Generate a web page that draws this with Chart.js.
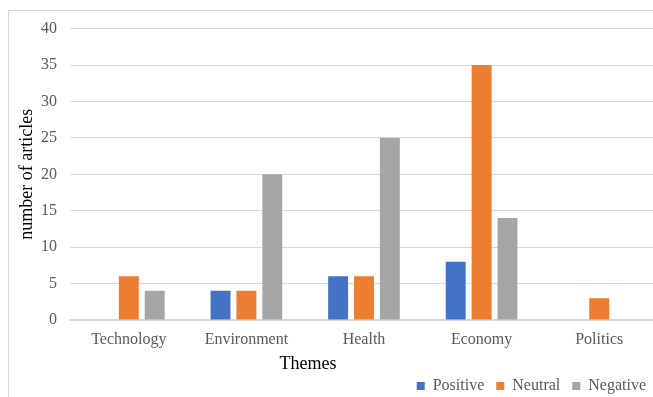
<!DOCTYPE html>
<html>
<head>
<meta charset="utf-8">
<script src="https://cdn.jsdelivr.net/npm/chart.js@4/dist/chart.umd.min.js"></script>
<style>
  html, body { margin: 0; padding: 0; background: #fff; overflow: hidden; }
  #frame { position: absolute; left: 8px; top: 10px; width: 700px; height: 420px; border: 1px solid #d9d9d9; }
  #box { position: absolute; left: 0px; top: -5px; width: 649px; height: 398px; }
</style>
</head>
<body>
<div id="frame"><div id="box"><canvas id="chart"></canvas></div></div>
<script>
'use strict';

var themes = ['Technology', 'Environment', 'Health', 'Economy', 'Politics'];
var positive = [0, 4, 6, 8, 0];
var neutral = [6, 4, 6, 35, 3];
var negative = [4, 20, 25, 14, 0];
var yTicks = [0, 5, 10, 15, 20, 25, 30, 35, 40];

var serif = "'Liberation Serif', 'Times New Roman', serif";

// the x title in the picture is not centred on the plot, so draw it here
var themesTitle = {
  id: 'themesTitle',
  afterDraw: function (chart) {
    var ctx = chart.ctx;
    var x = chart.scales.x;
    ctx.save();
    ctx.font = '18px ' + serif;
    ctx.fillStyle = '#000';
    ctx.textAlign = 'center';
    ctx.textBaseline = 'middle';
    ctx.fillText('Themes', x.left + 238, x.top + 44);
    ctx.restore();
  }
};

var ctx = document.getElementById('chart').getContext('2d');
var chart = new Chart(ctx, {
  type: 'bar',
  data: {
    labels: themes,
    datasets: [
      { label: 'Positive', data: positive, backgroundColor: '#4472C4' },
      { label: 'Neutral', data: neutral, backgroundColor: '#ED7D31' },
      { label: 'Negative', data: negative, backgroundColor: '#A5A5A5' }
    ]
  },
  options: {
    responsive: true,
    maintainAspectRatio: false,
    animation: false,
    categoryPercentage: 0.66,
    barPercentage: 0.77,
    layout: { padding: { left: 7, top: 4, right: 0, bottom: 0 } },
    plugins: {
      tooltip: { enabled: false },
      legend: {
        position: 'bottom',
        align: 'end',
        labels: {
          boxWidth: 8,
          boxHeight: 8,
          padding: 12,
          color: '#595959',
          font: { family: serif, size: 16 }
        }
      }
    },
    scales: {
      x: {
        afterFit: function (axis) { axis.height = 46; },
        grid: { display: false, drawTicks: false },
        border: { display: true, color: '#d9d9d9', width: 2 },
        ticks: { color: '#595959', padding: 10, font: { family: serif, size: 16 } }
      },
      y: {
        min: 0,
        max: 40,
        afterFit: function (axis) { axis.width = 54; },
        afterBuildTicks: function (axis) {
          axis.ticks = yTicks.map(function (v) { return { value: v }; });
        },
        grid: { color: '#d9d9d9', drawTicks: false },
        border: { display: false },
        ticks: { color: '#595959', padding: 13, font: { family: serif, size: 16 } },
        title: { display: true, text: 'number of articles', color: '#000', font: { family: serif, size: 18 }, padding: 0 }
      }
    }
  },
  plugins: [themesTitle]
});
</script>
</body>
</html>
